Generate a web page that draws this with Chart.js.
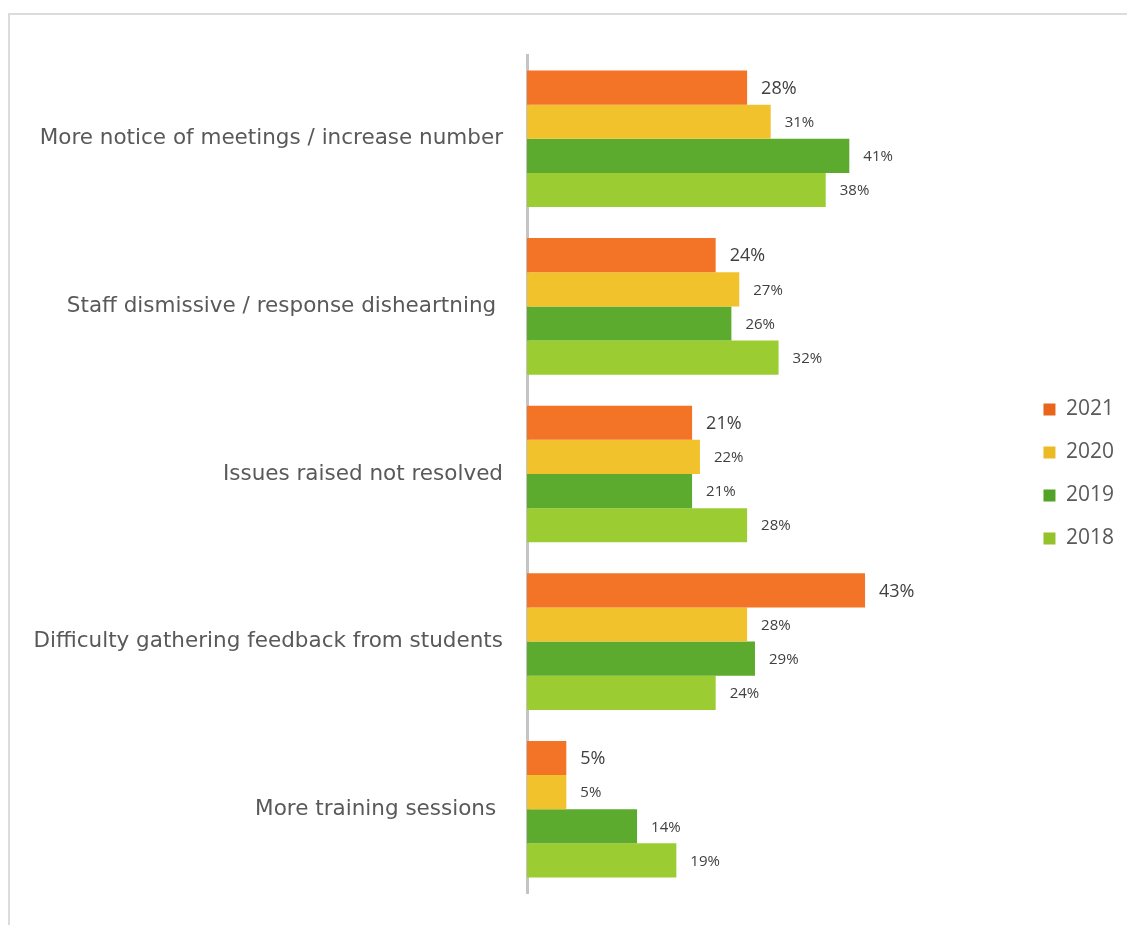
<!DOCTYPE html>
<html>
<head>
<meta charset="utf-8">
<script src="https://cdn.jsdelivr.net/npm/chart.js@4"></script>
<style>
  html, body { margin: 0; padding: 0; background: #fff; }
  #wrap { position: relative; width: 1127px; height: 925px; overflow: hidden; }
  #frame { position: absolute; left: 8px; top: 13px; right: -10px; bottom: -10px;
           border-top: 2px solid #dcdcdc; border-left: 2px solid #dcdcdc; }
  canvas { position: absolute; left: 0; top: 0; }
</style>
</head>
<body>
<div id="wrap">
  <div id="frame"></div>
  <canvas id="issuesChart" width="1127" height="925"></canvas>
</div>
<script>
// categories (top to bottom)
const categories = [
  'More notice of meetings / increase number',
  'Staff dismissive / response disheartning ',
  'Issues raised not resolved',
  'Difficulty gathering feedback from students',
  'More training sessions '
];

// series values, in %
const years = ['2021', '2020', '2019', '2018'];
const values2021 = [28, 24, 21, 43, 5];
const values2020 = [31, 27, 22, 28, 5];
const values2019 = [41, 26, 21, 29, 14];
const values2018 = [38, 32, 28, 24, 19];

const barColors = ['#f37427', '#f2c22d', '#5cab2f', '#9bcd32'];
const legendColors = ['#e8651c', '#ebbb25', '#52a227', '#93c22b'];

// draw the % label at the end of each bar
const valueLabels = {
  id: 'valueLabels',
  afterDatasetsDraw(chart) {
    const ctx = chart.ctx;
    ctx.save();
    ctx.fillStyle = '#404040';
    ctx.textBaseline = 'middle';
    ctx.textAlign = 'left';
    chart.data.datasets.forEach((ds, i) => {
      const meta = chart.getDatasetMeta(i);
      // the 2021 labels are a bit bigger in the original
      ctx.font = (i === 0 ? '18px' : '15px') + ' "Open Sans"';
      meta.data.forEach((bar, j) => {
        ctx.fillText(ds.data[j] + '%', bar.x + 14, bar.y + 1);
      });
    });
    ctx.restore();
  }
};

const allValues = [values2021, values2020, values2019, values2018];

const chart = new Chart(document.getElementById('issuesChart'), {
  type: 'bar',
  data: {
    labels: categories,
    datasets: years.map((y, i) => ({
      label: y,
      data: allValues[i],
      backgroundColor: barColors[i],
      borderWidth: 0,
      categoryPercentage: 0.815,
      barPercentage: 1
    }))
  },
  options: {
    indexAxis: 'y',
    responsive: false,
    animation: false,
    layout: { padding: { top: 55, bottom: 32, left: 0, right: 3 } },
    plugins: {
      tooltip: { enabled: false },
      legend: {
        position: 'right',
        labels: {
          boxWidth: 12,
          boxHeight: 12,
          padding: 22,
          color: '#595959',
          font: { family: '"Open Sans"', size: 21 },
          generateLabels(chart) {
            return chart.data.datasets.map((ds, i) => ({
              text: ds.label,
              fillStyle: legendColors[i],
              strokeStyle: legendColors[i],
              lineWidth: 0,
              fontColor: '#595959',
              datasetIndex: i
            }));
          }
        }
      }
    },
    scales: {
      x: {
        display: false,
        min: 0,
        max: 62.9
      },
      y: {
        grid: { display: false, drawTicks: false },
        border: { display: true, color: '#c4c4c4', width: 3 },
        ticks: {
          padding: 24,
          color: '#595959',
          font: { family: '"DejaVu Sans"', size: 21.5 }
        },
        afterFit(scale) {
          scale.width = 527;
          // don't let the label padding push the plot area up
          scale.paddingTop = 0;
          scale.paddingBottom = 0;
        }
      }
    }
  },
  plugins: [valueLabels]
});
</script>
</body>
</html>
